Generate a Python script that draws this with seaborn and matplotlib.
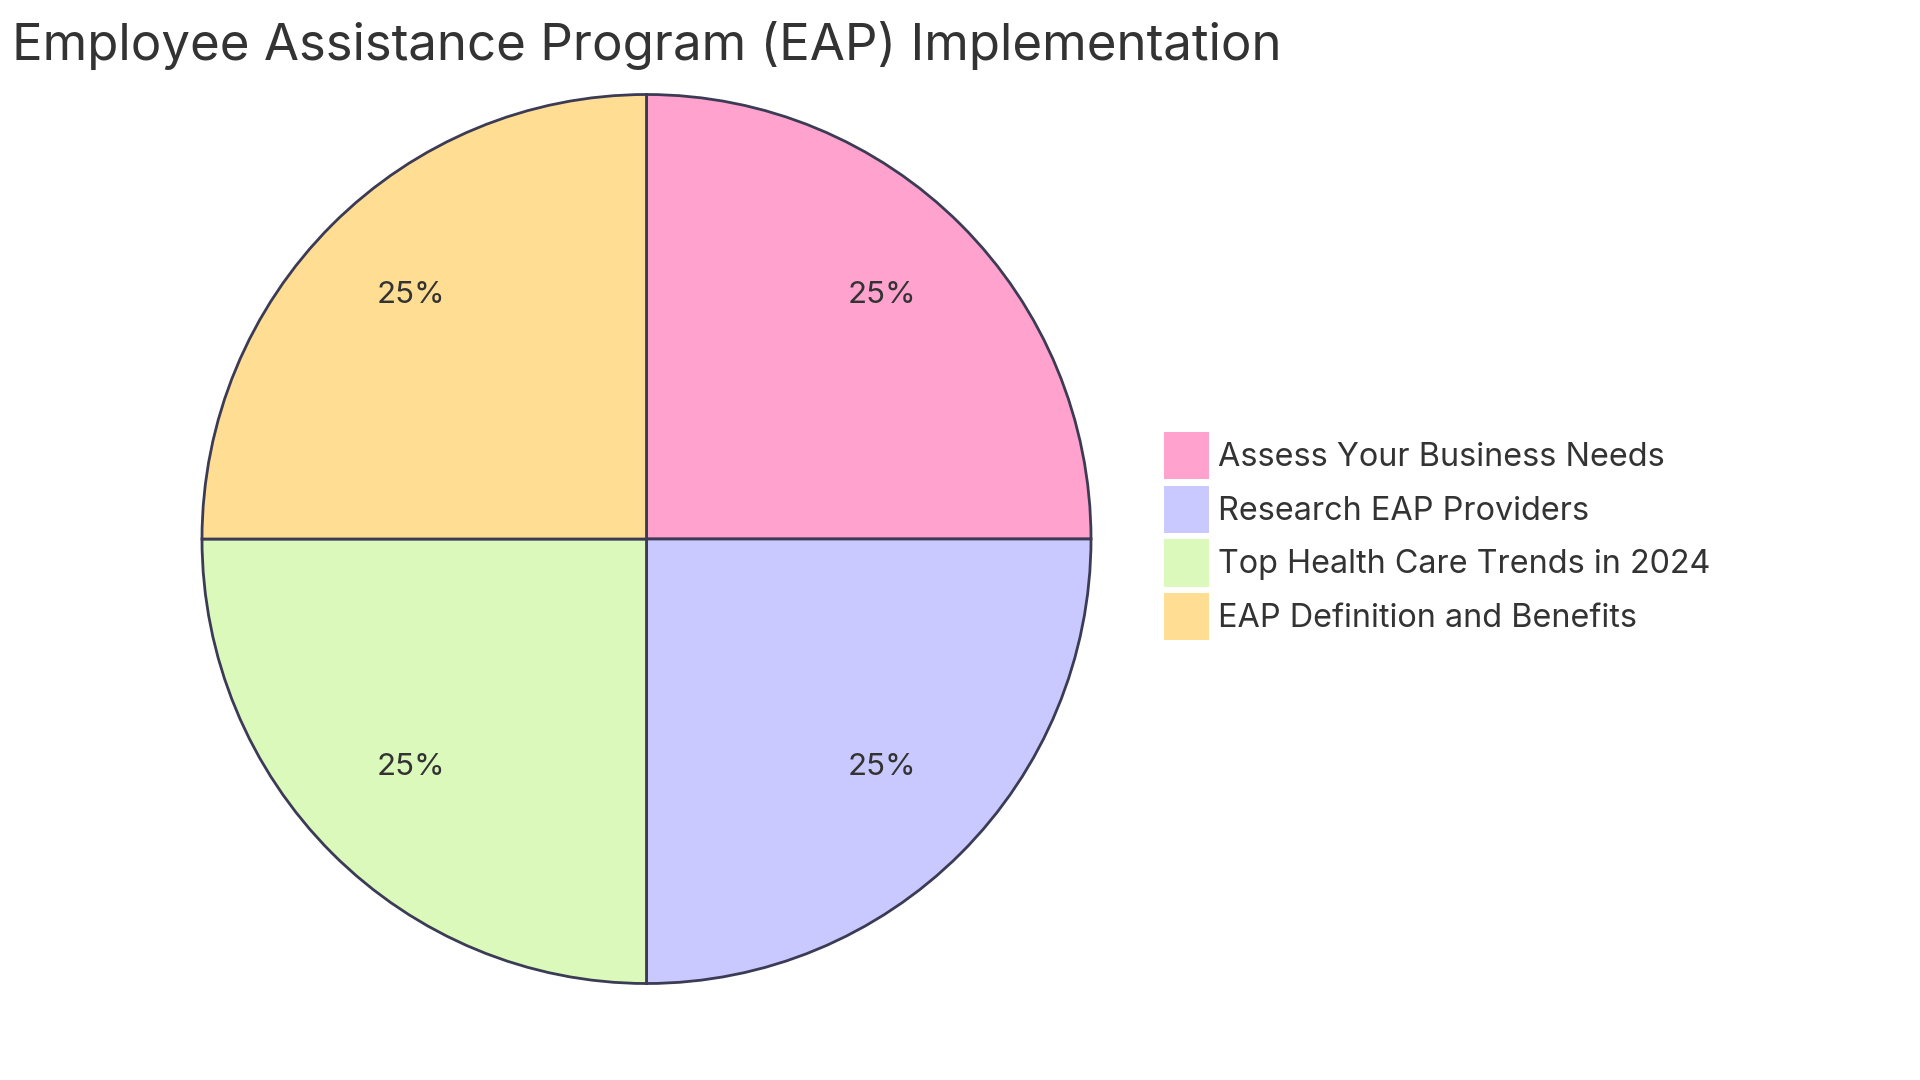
import matplotlib
matplotlib.use("Agg")
import matplotlib.pyplot as plt
import seaborn as sns
from matplotlib.patches import Patch

# data
labels = [
    "Assess Your Business Needs",
    "Research EAP Providers",
    "Top Health Care Trends in 2024",
    "EAP Definition and Benefits",
]
values = [25, 25, 25, 25]
colors = ["#FFA3CE", "#C9C9FF", "#DAF9BA", "#FFDE94"]
title = "Employee Assistance Program (EAP) Implementation"

sns.set_theme(style="white")
plt.rcParams["font.family"] = ["Inter", "DejaVu Sans"]
text_color = "#333333"
edge_color = "#3b3b55"

fig = plt.figure(figsize=(19.2, 10.8), dpi=100)
fig.patch.set_facecolor("white")

# pie axes placed so the circle sits where it does in the reference
ax = fig.add_axes([202 / 1920, 96.5 / 1080, 889 / 1920, 889 / 1080])
palette = sns.color_palette(colors)
wedges, texts, autotexts = ax.pie(
    values,
    colors=palette,
    startangle=90,
    counterclock=False,
    radius=1.0,
    autopct="%1.0f%%",
    pctdistance=0.75,
    wedgeprops=dict(edgecolor=edge_color, linewidth=2),
    textprops=dict(color=text_color, fontsize=22.5),
)
# labels sit on their baseline like the original svg text
for t in autotexts:
    t.set_va("baseline")
ax.set_xlim(-1.0, 1.0)
ax.set_ylim(-1.0, 1.0)
ax.set_aspect("equal")
ax.axis("off")

fig.text(12 / 1920, 1 - 46 / 1080, title, fontsize=36.7, color=text_color,
         ha="left", va="center")

handles = [Patch(facecolor=c, edgecolor="none") for c in colors]
leg = fig.legend(
    handles, labels,
    loc="upper left",
    bbox_to_anchor=(1164 / 1920, 1 - 432 / 1080),
    frameon=False,
    fontsize=23.3,
    handlelength=1.38,
    handleheight=1.88,
    handletextpad=0.28,
    labelspacing=0.19,
    borderpad=0,
    borderaxespad=0,
)
for t in leg.get_texts():
    t.set_color(text_color)

plt.savefig("out.png", dpi=100, facecolor="white")
plt.close()
